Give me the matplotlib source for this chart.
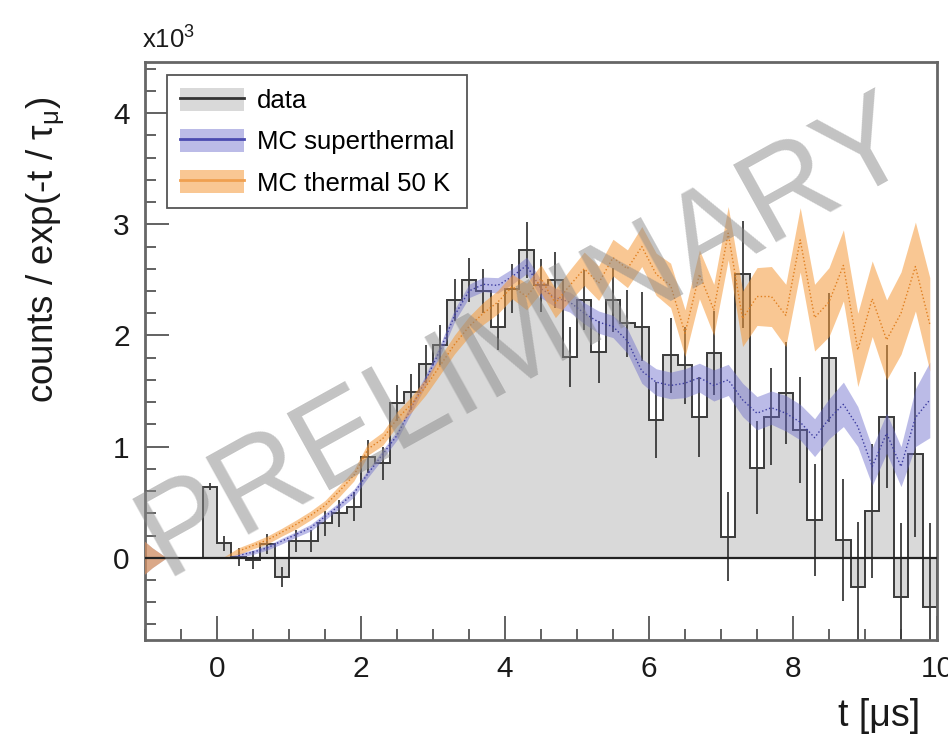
import numpy as np
import matplotlib.pyplot as plt
from matplotlib.patches import Patch
from matplotlib.lines import Line2D

plt.rcParams['font.family'] = ['Liberation Sans', 'DejaVu Sans']
plt.rcParams['mathtext.fontset'] = 'custom'
plt.rcParams['mathtext.rm'] = 'Liberation Sans'
plt.rcParams['mathtext.it'] = 'Liberation Sans:italic'

# data histogram: 0.2 us bins from -0.2 to 10 us, in units of 1e3
bin_lo = -0.2
bin_w = 0.2
data_val = [0.64, 0.13, 0.01, -0.02, 0.12, -0.17, 0.15, 0.15, 0.31, 0.40,
            0.46, 0.91, 0.85, 1.39, 1.49, 1.74, 1.91, 2.32, 2.50, 2.40,
            2.08, 2.42, 2.77, 2.45, 2.50, 1.81, 2.32, 1.85, 2.32, 2.11,
            2.08, 1.24, 1.82, 1.73, 1.27, 1.84, 0.19, 2.55, 0.81, 1.27,
            1.48, 1.15, 0.34, 1.80, 0.16, -0.26, 0.42, 1.27, -0.35, 0.93,
            -0.44]
data_err = [0.03, 0.07, 0.08, 0.08, 0.09, 0.09, 0.10, 0.10, 0.11, 0.12,
            0.13, 0.15, 0.15, 0.16, 0.16, 0.17, 0.18, 0.19, 0.20, 0.20,
            0.21, 0.22, 0.25, 0.24, 0.25, 0.27, 0.27, 0.28, 0.29, 0.30,
            0.31, 0.34, 0.34, 0.35, 0.36, 0.38, 0.40, 0.48, 0.42, 0.44,
            0.46, 0.48, 0.50, 0.58, 0.55, 0.58, 0.60, 0.64, 0.66, 0.74,
            0.75]

# MC points, every 0.2 us starting at -1.1 us
mc_start = -1.1
super_val = [0, 0, 0, 0, 0, 0, 0.0, 0.02, 0.05, 0.09,
             0.15, 0.21, 0.27, 0.37, 0.47, 0.58, 0.76, 0.93, 1.10, 1.35,
             1.60, 1.87, 2.18, 2.40, 2.46, 2.45, 2.53, 2.63, 2.42, 2.34,
             2.30, 2.20, 2.12, 2.08, 1.95, 1.68, 1.58, 1.55, 1.57, 1.62,
             1.55, 1.60, 1.42, 1.30, 1.35, 1.30, 1.22, 1.08, 1.25, 1.38,
             1.18, 0.82, 1.12, 0.82, 1.26, 1.42]
super_err = [0.20, 0.09, 0, 0, 0, 0, 0, 0.02, 0.02, 0.02,
             0.025, 0.025, 0.03, 0.03, 0.03, 0.035, 0.035, 0.04, 0.04, 0.045,
             0.05, 0.05, 0.055, 0.06, 0.065, 0.07, 0.07, 0.075, 0.08, 0.085,
             0.09, 0.095, 0.10, 0.10, 0.11, 0.11, 0.12, 0.12, 0.13, 0.13,
             0.14, 0.14, 0.15, 0.15, 0.15, 0.16, 0.16, 0.17, 0.18, 0.20,
             0.18, 0.17, 0.18, 0.18, 0.26, 0.34]
therm_val = [0, 0, 0, 0, 0, 0, 0.01, 0.06, 0.11, 0.16,
             0.23, 0.30, 0.38, 0.47, 0.60, 0.74, 0.98, 1.07, 1.25, 1.38,
             1.54, 1.73, 1.92, 2.08, 2.20, 2.30, 2.44, 2.35, 2.51, 2.29,
             2.45, 2.60, 2.47, 2.70, 2.60, 2.80, 2.55, 2.45, 2.02, 2.55,
             2.23, 2.92, 2.15, 2.35, 2.35, 2.18, 2.86, 2.16, 2.30, 2.63,
             1.87, 2.33, 1.96, 2.20, 2.62, 2.10]
therm_err = [0.20, 0.09, 0, 0, 0, 0, 0, 0.03, 0.03, 0.035,
             0.035, 0.04, 0.04, 0.045, 0.05, 0.05, 0.055, 0.06, 0.065, 0.07,
             0.075, 0.08, 0.085, 0.09, 0.10, 0.105, 0.11, 0.12, 0.125, 0.13,
             0.14, 0.15, 0.155, 0.165, 0.17, 0.18, 0.19, 0.20, 0.21, 0.22,
             0.23, 0.24, 0.25, 0.26, 0.27, 0.28, 0.29, 0.30, 0.31, 0.32,
             0.33, 0.34, 0.36, 0.37, 0.40, 0.42]

data_val = np.array(data_val)
data_err = np.array(data_err)
edges = bin_lo + bin_w * np.arange(len(data_val) + 1)
centers = 0.5 * (edges[:-1] + edges[1:])
mc_t = mc_start + bin_w * np.arange(len(super_val))
super_val = np.array(super_val)
super_err = np.array(super_err)
therm_val = np.array(therm_val)
therm_err = np.array(therm_err)

grey = '#d9d9d9'
blue = '#6a6acb'
orange = '#f59a3a'
ink = '#1a1a1a'

fig = plt.figure(figsize=[9.48, 7.38], dpi=100)
ax = fig.add_axes([145 / 948, 1 - 640 / 738, 792 / 948, 578 / 738])

# data
ax.stairs(data_val, edges, baseline=0, fill=True, color=grey, zorder=1)
ax.stairs(data_val, edges, baseline=0, color='#3a3a3a', lw=1.4, zorder=2)
ax.errorbar(centers, data_val, yerr=data_err, fmt='none', ecolor='#3a3a3a',
            elinewidth=1.3, zorder=2)

# MC bands
ax.fill_between(mc_t, super_val - super_err, super_val + super_err,
                color=blue, alpha=0.45, lw=0, zorder=3)
ax.plot(mc_t[7:], super_val[7:], ls=':', color='#3c3ca0', lw=1.0, zorder=3)
ax.fill_between(mc_t, therm_val - therm_err, therm_val + therm_err,
                color=orange, alpha=0.55, lw=0, zorder=3)
ax.plot(mc_t[7:], therm_val[7:], ls=':', color='#e07f20', lw=1.0, zorder=3)

ax.axhline(0, color='#222222', lw=1.6, zorder=4)

ax.set_xlim(-1, 10)
ax.set_ylim(-0.74, 4.46)
ax.set_xticks([0, 2, 4, 6, 8, 10])
ax.set_xticks(np.arange(-1, 10.01, 0.5), minor=True)
ax.set_yticks([0, 1, 2, 3, 4])
ax.set_yticks(np.arange(-0.6, 4.41, 0.2), minor=True)
ax.tick_params(which='both', direction='in', color='#555555', width=1.3,
               labelsize=21.5, labelcolor=ink, top=False, right=False)
ax.tick_params(which='major', length=17, pad=11)
ax.tick_params(which='minor', length=8)
for sp in ax.spines.values():
    sp.set_color('#666666')
    sp.set_linewidth(2)

fig.text(142 / 948, 1 - 40 / 738, r'x10$^{\mathregular{3}}$', fontsize=18.5,
         va='center', ha='left', color=ink)
fig.text(46 / 948, 1 - 250 / 738,
         r'counts / exp(-t / $\mathregular{\tau_{\mu}}$)',
         rotation=90, fontsize=26.5, ha='center', va='center', color=ink)
fig.text(838 / 948, 1 - 716 / 738, 't [μs]', fontsize=27, ha='left',
         va='center', color=ink)

handles = [
    (Patch(facecolor=grey, edgecolor='none'), Line2D([], [], color='#333333', lw=2)),
    (Patch(facecolor=blue, alpha=0.45, edgecolor='none'), Line2D([], [], color='#4a4ab0', lw=2)),
    (Patch(facecolor=orange, alpha=0.55, edgecolor='none'), Line2D([], [], color='#f0a050', lw=2)),
]
labels = ['data', 'MC superthermal', 'MC thermal 50 K']
leg = ax.legend(handles, labels, loc='upper left',
                bbox_to_anchor=(22 / 792, 1 - 13 / 578), borderaxespad=0,
                fontsize=18.5, frameon=True, fancybox=False,
                edgecolor='#555555', framealpha=1, handlelength=2.5,
                handleheight=1.0, labelspacing=0.62, borderpad=0.5,
                handletextpad=0.5)
leg.get_frame().set_linewidth(1.3)
leg.set_zorder(6)

# watermark
fig.text(526 / 948, 1 - 337 / 738, 'PRELIMINARY', fontsize=92, rotation=29,
         ha='center', va='center', color='#888888', alpha=0.5, zorder=10)

fig.savefig('out.png', dpi=100)
